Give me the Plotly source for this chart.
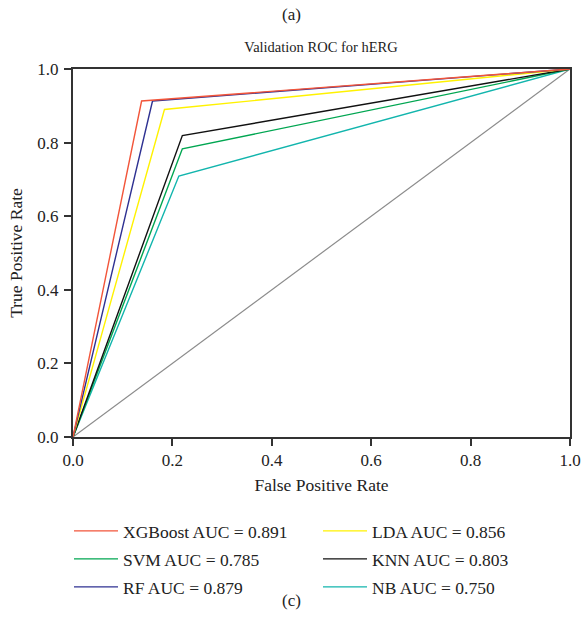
import plotly.graph_objects as go

models = ["XGBoost", "LDA", "SVM", "KNN", "RF", "NB"]
auc = ["0.891", "0.856", "0.785", "0.803", "0.879", "0.750"]
fpr_mid = [0.138, 0.184, 0.220, 0.220, 0.160, 0.213]
tpr_mid = [0.913, 0.890, 0.783, 0.819, 0.913, 0.709]
colors = ["#f2553a", "#fff200", "#00a651", "#111111", "#2e3192", "#12b5ad"]
draw_order = ["NB", "SVM", "KNN", "LDA", "RF", "XGBoost"]

FONT = "Liberation Serif"
TXT = "#222222"
W, H = 583, 640
L, R, T, B = 73, 13, 69, 203
PW, PH = W - L - R, H - T - B


def px_x(p):
    return (p - L) / PW


def px_y(p):
    return (H - B - p) / PH


fig = go.Figure()
fig.add_trace(go.Scatter(x=[0, 1], y=[0, 1], mode="lines",
                         line=dict(color="#8c8c8c", width=1.2), showlegend=False, hoverinfo="skip"))

legend_ids = ["legend", "legend2", "legend3", "legend4", "legend5", "legend6"]
for name in draw_order:
    i = models.index(name)
    fig.add_trace(go.Scatter(
        x=[0, fpr_mid[i], 1], y=[0, tpr_mid[i], 1], mode="lines",
        line=dict(color=colors[i], width=1.4),
        name=f"{name} AUC = {auc[i]}", legend=legend_ids[i]))

axis_common = dict(range=[0, 1], showgrid=False, zeroline=False, showline=True,
                   linecolor="#333333", linewidth=2, mirror=True, ticks="outside",
                   ticklen=7, tickwidth=1.5, tickcolor="#333333", tickformat=".1f",
                   dtick=0.2, tickfont=dict(size=17, color=TXT, family=FONT))
fig.update_xaxes(**axis_common, title=dict(text="False Positive Rate", font=dict(size=17.5, color=TXT, family=FONT), standoff=9))
fig.update_yaxes(**axis_common, ticklabelstandoff=2,
                 title=dict(text="True Positive Rate", font=dict(size=17.5, color=TXT, family=FONT), standoff=10))

col_x = [69, 318]
row_y = [531, 559, 587]
legends = {}
for i, lid in enumerate(legend_ids):
    r, c = divmod(i, 2)
    legends[lid] = dict(x=px_x(col_x[c]), xanchor="left", y=px_y(row_y[r]), yanchor="middle",
                        itemwidth=44, font=dict(size=17.5, family=FONT, color=TXT),
                        bgcolor="rgba(0,0,0,0)", borderwidth=0)

fig.update_layout(
    width=W, height=H,
    margin=dict(l=L, r=R, t=T, b=B, autoexpand=False),
    plot_bgcolor="white", paper_bgcolor="white",
    font=dict(family=FONT, color=TXT),
    title=dict(text="Validation ROC for hERG", x=321 / W, xanchor="center",
               y=1 - 47 / H, yanchor="middle",
               font=dict(size=14.5, family=FONT, color=TXT)),
    annotations=[
        dict(text="(a)", xref="paper", yref="paper", x=px_x(291), y=px_y(14), showarrow=False,
             font=dict(size=17, family=FONT, color=TXT), xanchor="center", yanchor="middle"),
        dict(text="(c)", xref="paper", yref="paper", x=px_x(291), y=px_y(600), showarrow=False,
             font=dict(size=17, family=FONT, color=TXT), xanchor="center", yanchor="middle"),
    ],
    **legends,
)
fig.write_html("out.html", config={"displayModeBar": False},
               post_script="document.body.style.margin='0';document.body.style.overflow='hidden';")
